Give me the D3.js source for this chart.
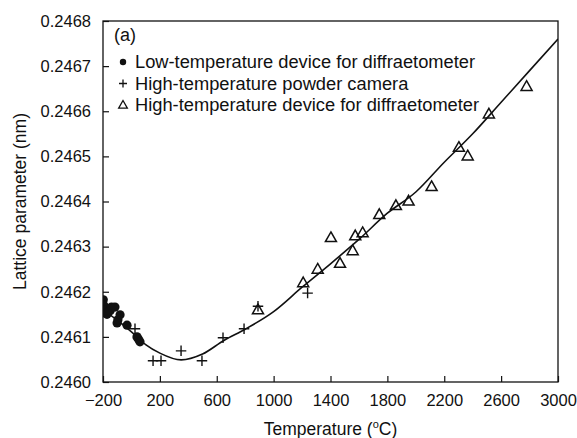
<!DOCTYPE html>
<html>
<head>
<meta charset="utf-8">
<script src="https://cdn.jsdelivr.net/npm/d3@7"></script>
<style>
  html, body { margin: 0; padding: 0; background: #fff; }
  svg { display: block; font-family: "Liberation Sans", Arial, Helvetica, sans-serif; }
</style>
</head>
<body>
<svg id="chart" width="577" height="438"></svg>
<script>
// Low-temperature device for diffractometer (filled circles)
const lowTempT = [-198, -195, -190, -186, -180, -172, -165, -150, -140, -116, -101, -95, -80, -31, 39, 50, 60];
const lowTempA = [0.246182, 0.246170, 0.246160, 0.246153, 0.246158, 0.246150, 0.246155, 0.246158, 0.246166, 0.246166, 0.246131, 0.246138, 0.246149, 0.246126, 0.246100, 0.246095, 0.246089];

// High-temperature powder camera (plus signs)
const cameraT = [25, 152, 208, 349, 496, 644, 792, 890, 1239];
const cameraA = [0.246118, 0.246047, 0.246047, 0.246069, 0.246047, 0.246098, 0.246118, 0.246168, 0.246197];

// High-temperature device for diffractometer (open triangles)
const hiTempT = [890, 1208, 1310, 1403, 1467, 1556, 1574, 1626, 1743, 1860, 1949, 2111, 2303, 2365, 2514, 2779];
const hiTempA = [0.246160, 0.246220, 0.246250, 0.246320, 0.246263, 0.246291, 0.246324, 0.246331, 0.246371, 0.246391, 0.246401, 0.246433, 0.246520, 0.246501, 0.246594, 0.246655];

// Fitted curve
const fitT = [-200, -100, 0, 100, 200, 350, 500, 650, 800, 1000, 1200, 1400, 1600, 1800, 2000, 2200, 2400, 2600, 2800, 3000];
const fitA = [0.246160, 0.246137, 0.246111, 0.246083, 0.246064, 0.246049, 0.246062, 0.246092, 0.246117, 0.246156, 0.246210, 0.246262, 0.246316, 0.246374, 0.246421, 0.246487, 0.246550, 0.246620, 0.246690, 0.246760];

// Axis ticks
const xTicks = [-200, 200, 600, 1000, 1400, 1800, 2200, 2600, 3000];
const yTicks = [0.2460, 0.2461, 0.2462, 0.2463, 0.2464, 0.2465, 0.2466, 0.2467, 0.2468];

const legendLabels = [
  "Low-temperature device for diffraetometer",
  "High-temperature powder camera",
  "High-temperature device for diffraetometer"
];

const margin = { left: 103, right: 19, top: 21, bottom: 56 };
const W = 577, H = 438;
const svg = d3.select("#chart");

const x = d3.scaleLinear().domain([-200, 3000]).range([margin.left, W - margin.right]);
const y = d3.scaleLinear().domain([0.2460, 0.2468]).range([H - margin.bottom, margin.top]);

const ink = "#111";

// Frame
svg.append("rect")
  .attr("x", x(-200)).attr("y", y(0.2468))
  .attr("width", x(3000) - x(-200)).attr("height", y(0.2460) - y(0.2468))
  .attr("fill", "none").attr("stroke", ink).attr("stroke-width", 1.3);

// Bottom axis, ticks pointing inward
const xAxis = d3.axisBottom(x).tickValues(xTicks).tickSizeInner(-6).tickSizeOuter(0)
  .tickPadding(12).tickFormat(d => d < 0 ? "\u2212" + Math.abs(d) : String(d));
const gx = svg.append("g").attr("transform", `translate(0,${y(0.2460)})`).call(xAxis);
gx.select(".domain").remove();
gx.selectAll("line").attr("stroke", ink).attr("stroke-width", 1.2);
gx.selectAll("text").attr("fill", ink).attr("font-size", 16.5).attr("font-family", null);

// Left axis, ticks pointing inward
const yAxis = d3.axisLeft(y).tickValues(yTicks).tickSizeInner(-6).tickSizeOuter(0)
  .tickPadding(12).tickFormat(d3.format(".4f"));
const gy = svg.append("g").attr("transform", `translate(${x(-200)},0)`).call(yAxis);
gy.select(".domain").remove();
gy.selectAll("line").attr("stroke", ink).attr("stroke-width", 1.2);
gy.selectAll("text").attr("fill", ink).attr("font-size", 16.5).attr("font-family", null);

// Axis titles
const xt = svg.append("text")
  .attr("x", (x(-200) + x(3000)) / 2).attr("y", 435)
  .attr("text-anchor", "middle").attr("font-size", 17.5).attr("fill", ink);
xt.append("tspan").text("Temperature (");
xt.append("tspan").attr("font-size", 11).attr("dy", -7).text("o");
xt.append("tspan").attr("dy", 7).text("C)");

svg.append("text")
  .attr("transform", `translate(26,${(y(0.2460) + y(0.2468)) / 2}) rotate(-90)`)
  .attr("text-anchor", "middle").attr("font-size", 17.5).attr("fill", ink)
  .text("Lattice parameter (nm)");

// Clip to plot area
svg.append("clipPath").attr("id", "plotClip").append("rect")
  .attr("x", x(-200)).attr("y", y(0.2468))
  .attr("width", x(3000) - x(-200)).attr("height", y(0.2460) - y(0.2468));

const plot = svg.append("g").attr("clip-path", "url(#plotClip)");

// Fitted curve
const fitData = fitT.map((t, i) => [t, fitA[i]]);
plot.append("path")
  .datum(fitData)
  .attr("d", d3.line().x(d => x(d[0])).y(d => y(d[1])).curve(d3.curveMonotoneX))
  .attr("fill", "none").attr("stroke", ink).attr("stroke-width", 1.6);

// Marker helpers
const triPath = s => `M0,${-s * 0.6}L${s * 0.58},${s * 0.42}L${-s * 0.58},${s * 0.42}Z`;
const plusPath = s => `M${-s / 2},0H${s / 2}M0,${-s / 2}V${s / 2}`;

// Open triangles
plot.selectAll("path.tri")
  .data(hiTempT.map((t, i) => [t, hiTempA[i]]))
  .join("path").attr("class", "tri")
  .attr("transform", d => `translate(${x(d[0])},${y(d[1])})`)
  .attr("d", triPath(9.5))
  .attr("fill", "none").attr("stroke", ink).attr("stroke-width", 1.5);

// Plus signs
plot.selectAll("path.plus")
  .data(cameraT.map((t, i) => [t, cameraA[i]]))
  .join("path").attr("class", "plus")
  .attr("transform", d => `translate(${x(d[0])},${y(d[1])})`)
  .attr("d", plusPath(10.5))
  .attr("fill", "none").attr("stroke", ink).attr("stroke-width", 1.4);

// Filled circles
plot.selectAll("circle.low")
  .data(lowTempT.map((t, i) => [t, lowTempA[i]]))
  .join("circle").attr("class", "low")
  .attr("cx", d => x(d[0])).attr("cy", d => y(d[1])).attr("r", 4.6)
  .attr("fill", ink);

// Panel label and legend
svg.append("text").attr("x", 114).attr("y", 41).attr("font-size", 18).attr("fill", ink).text("(a)");

const legY = [62, 83.5, 105];
const leg = svg.append("g");
leg.append("circle").attr("cx", 123).attr("cy", legY[0]).attr("r", 3.2).attr("fill", ink);
leg.append("path").attr("transform", `translate(123,${legY[1]})`).attr("d", plusPath(8))
  .attr("stroke", ink).attr("stroke-width", 1.3).attr("fill", "none");
leg.append("path").attr("transform", `translate(123,${legY[2]})`).attr("d", triPath(7.5))
  .attr("stroke", ink).attr("stroke-width", 1.3).attr("fill", "none");
leg.selectAll("text.leg").data(legendLabels).join("text").attr("class", "leg")
  .attr("x", 135).attr("y", (d, i) => legY[i]).attr("dy", "0.35em")
  .attr("font-size", 18.3).attr("fill", ink).text(d => d);
</script>
</body>
</html>
